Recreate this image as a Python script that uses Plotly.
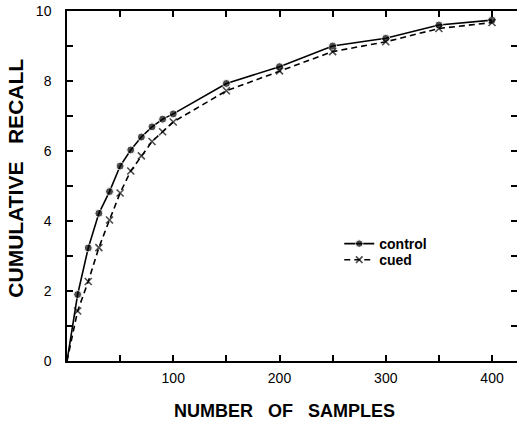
import plotly.graph_objects as go

samples = [0, 10, 20, 30, 40, 50, 60, 70, 80, 90, 100, 150, 200, 250, 300, 350, 400]
control = [0, 1.90, 3.23, 4.22, 4.84, 5.57, 6.03, 6.40, 6.69, 6.91, 7.06, 7.93, 8.41, 9.00, 9.22, 9.60, 9.74]
cued = [0, 1.43, 2.27, 3.24, 4.03, 4.80, 5.43, 5.86, 6.27, 6.55, 6.83, 7.72, 8.29, 8.84, 9.12, 9.50, 9.67]

x_tick_vals = [100, 200, 300, 400]
x_tick_text = ["100", "200", "300", "400"]
y_tick_vals = [0, 2, 4, 6, 8, 10]
y_tick_text = ["0", "2", "4", "6", "8", "10"]

marker_sizes = [0] + [8] * (len(samples) - 1)
x_sizes = [0] + [7] * (len(samples) - 1)

fig = go.Figure()
fig.add_trace(go.Scatter(
    x=samples, y=control, name="control", mode="lines+markers",
    line=dict(color="black", width=1.6),
    marker=dict(symbol="circle", size=marker_sizes, color="black"),
    legend="legend",
))
fig.add_trace(go.Scatter(
    x=samples, y=cued, name="cued", mode="lines+markers",
    line=dict(color="black", width=1.6, dash="6px,4px"),
    marker=dict(symbol="x-thin", size=x_sizes, color="black",
                line=dict(color="black", width=1.6)),
    legend="legend2",
))

tick_font = dict(family="Liberation Sans, Arial, sans-serif", size=14, color="black")
tick_style = dict(ticks="inside", ticklen=6, tickwidth=1.5, tickcolor="black")

fig.update_xaxes(
    range=[0, 423.5], tickvals=x_tick_vals, ticktext=x_tick_text,
    minor=dict(dtick=50, tick0=0, **tick_style),
    ticklabelstandoff=3,
    showline=True, linecolor="black", linewidth=1.5, mirror="allticks",
    showgrid=False, zeroline=False, tickfont=tick_font, **tick_style,
)
fig.update_layout(
    yaxis=dict(
        range=[0, 10], tickvals=y_tick_vals, ticktext=y_tick_text,
        minor=dict(dtick=1, tick0=0, **tick_style),
        ticklabelstandoff=11,
        showline=True, linecolor="black", linewidth=1.5, mirror=False,
        showgrid=False, zeroline=False, tickfont=tick_font, **tick_style,
    ),
    yaxis2=dict(
        range=[0, 10], overlaying="y", side="right", matches="y",
        tickvals=y_tick_vals, showticklabels=False,
        minor=dict(dtick=1, tick0=0, **tick_style),
        showline=False, showgrid=False, zeroline=False, **tick_style,
    ),
)
# invisible trace to activate the right-hand tick axis
fig.add_trace(go.Scatter(x=[], y=[], yaxis="y2", showlegend=False, hoverinfo="skip"))

fig.add_annotation(
    text="NUMBER\u00a0\u00a0\u00a0OF\u00a0\u00a0\u00a0SAMPLES",
    xref="paper", yref="paper", x=0.484, y=-0.143, xanchor="center", yanchor="middle",
    showarrow=False,
    font=dict(family="Liberation Sans, Arial, sans-serif", size=18, color="black", weight="bold"),
)
fig.add_annotation(
    text="CUMULATIVE\u00a0\u00a0\u00a0RECALL",
    xref="paper", yref="paper", x=-0.114, y=0.523, xanchor="center", yanchor="middle",
    textangle=-90, showarrow=False,
    font=dict(family="Liberation Sans, Arial, sans-serif", size=21, color="black", weight="bold"),
)

legend_font = dict(family="Liberation Sans, Arial, sans-serif", size=14, color="black", weight="bold")
fig.update_layout(
    width=517, height=426,
    margin=dict(l=67, r=0, t=11, b=65),
    paper_bgcolor="white", plot_bgcolor="white",
    showlegend=True,
    legend=dict(x=0.605, y=0.38, xanchor="left", yanchor="top",
                bgcolor="rgba(0,0,0,0)", font=legend_font, itemwidth=30),
    legend2=dict(x=0.605, y=0.334, xanchor="left", yanchor="top",
                 bgcolor="rgba(0,0,0,0)", font=legend_font, itemwidth=30),
)

fig.write_html("out.html")
